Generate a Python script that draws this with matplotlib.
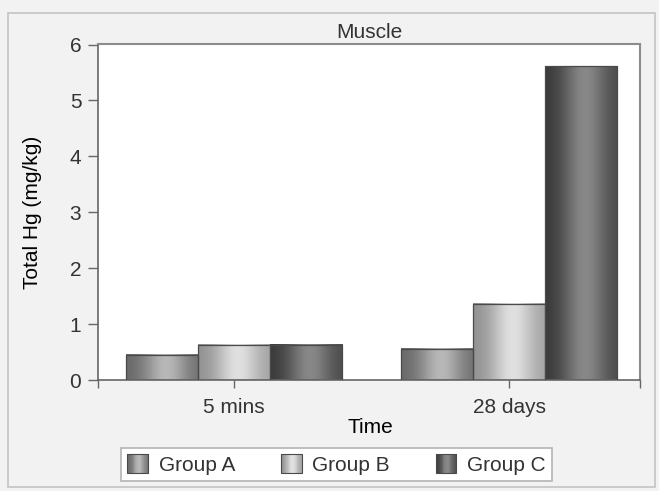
import numpy as np
import matplotlib

matplotlib.use('Agg')
import matplotlib.pyplot as plt
from matplotlib.colors import LinearSegmentedColormap, to_rgb
from matplotlib.patches import Rectangle
from matplotlib.legend_handler import HandlerBase

plt.rcParams['font.family'] = ['Liberation Sans', 'DejaVu Sans']
plt.rcParams['font.size'] = 15
plt.rcParams['text.color'] = '#333333'
plt.rcParams['xtick.color'] = '#333333'
plt.rcParams['ytick.color'] = '#333333'

# data
time_points = ['5 mins', '28 days']
groups = ['Group A', 'Group B', 'Group C']
group_a = [0.45, 0.56]
group_b = [0.63, 1.36]
group_c = [0.63, 5.61]
values = [group_a, group_b, group_c]

# cylinder shading per group: left edge, highlight, right edge
shades = [
    ('#686868', '#b8b8b8', '#6c6c6c'),
    ('#909090', '#e0e0e0', '#a0a0a0'),
    ('#383838', '#888888', '#484848'),
]


def cylinder_cmap(name, left, peak, right):
    t = np.linspace(0, 1, 48)
    l, p, r = (np.array(to_rgb(c)) for c in (left, peak, right))
    bump = np.exp(-((t - 0.55) / 0.3) ** 2)
    edge = l[None, :] * (1 - t[:, None]) + r[None, :] * t[:, None]
    cols = edge * (1 - bump[:, None]) + p[None, :] * bump[:, None]
    return LinearSegmentedColormap.from_list(name, cols)


cmaps = [cylinder_cmap('g%d' % i, *s) for i, s in enumerate(shades)]


class GradientHandler(HandlerBase):
    def __init__(self, cmap):
        super().__init__()
        self.cmap = cmap

    def create_artists(self, legend, orig_handle, xdescent, ydescent,
                       width, height, fontsize, trans):
        n = 24
        arts = []
        for i in range(n):
            arts.append(Rectangle((-xdescent + i * width / n, -ydescent), width / n + 0.2, height,
                                  facecolor=self.cmap((i + 0.5) / n), edgecolor='none',
                                  transform=trans))
        arts.append(Rectangle((-xdescent, -ydescent), width, height, facecolor='none',
                              edgecolor='#4a4a4a', lw=0.8, transform=trans))
        return arts


fig = plt.figure(figsize=(6.59, 4.91), dpi=100, facecolor='#f2f2f2')
fig.patches.append(Rectangle((8 / 659, 4 / 491), 647 / 659, 474 / 491,
                             transform=fig.transFigure, facecolor='none',
                             edgecolor='#c4c4c4', lw=1.2))

ax = fig.add_axes([98 / 659, 1 - 380 / 491, 542 / 659, 335.5 / 491])
ax.set_facecolor('white')

x = np.arange(len(time_points))
width = 0.262
handles = []
for i, (vals, cmap) in enumerate(zip(values, cmaps)):
    bars = ax.bar(x + (i - 1) * width, vals, width, facecolor='none',
                  edgecolor='#4a4a4a', lw=0.9, zorder=3, label=groups[i])
    grad = cmap(np.linspace(0, 1, 128))[None, :, :]
    for b in bars:
        x0, w, h = b.get_x(), b.get_width(), b.get_height()
        ax.imshow(grad, extent=[x0, x0 + w, 0, h], aspect='auto',
                  interpolation='bilinear', zorder=2)
    handles.append(bars)

ax.set_xlim(-0.4945, 1.476)
ax.set_ylim(0, 6)
ax.set_yticks(range(7))
ax.set_xticks(x)
ax.set_xticklabels(time_points)
ax.set_xticks([-0.4945, 1.476], minor=True)

ax.tick_params(axis='y', direction='out', length=7, width=1, color='#666666', pad=5)
ax.tick_params(axis='x', which='both', direction='out', length=6, width=1,
               color='#666666', pad=7)

for side in ['left', 'bottom']:
    ax.spines[side].set_color('#666666')
    ax.spines[side].set_linewidth(1.2)
for side in ['top', 'right']:
    ax.spines[side].set_color('#8c8c8c')
    ax.spines[side].set_linewidth(1.5)

ax.set_title('Muscle', fontsize=15, pad=5)
ax.set_ylabel('Total Hg (mg/kg)', va='center')
ax.yaxis.set_label_coords(-0.12, 0.5)
ax.set_xlabel('Time', va='center')
ax.xaxis.set_label_coords(0.502, -0.143)

leg = fig.legend(handles, groups, loc='center', ncol=3,
                 bbox_to_anchor=(336.5 / 659, 1 - 464.5 / 491),
                 handler_map={h: GradientHandler(c) for h, c in zip(handles, cmaps)},
                 handlelength=1.0, handleheight=1.0, handletextpad=0.5,
                 columnspacing=2.2, borderpad=0.3, fancybox=False,
                 framealpha=1, edgecolor='#b4b4b4', facecolor='white')
leg.get_frame().set_linewidth(1.2)

plt.savefig('out.png', dpi=100, facecolor=fig.get_facecolor())
